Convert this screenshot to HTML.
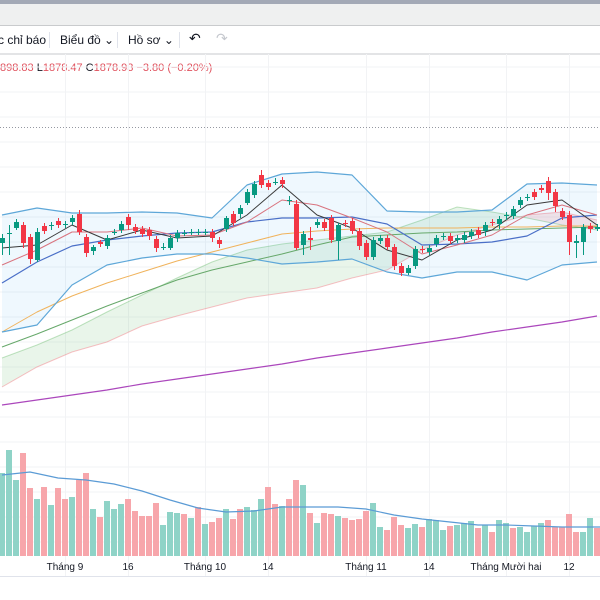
<!DOCTYPE html>
<html><head><meta charset="utf-8">
<style>
html,body{margin:0;padding:0;width:600px;height:600px;overflow:hidden;background:#fff;font-family:"Liberation Sans","Noto Sans CJK SC",sans-serif;}
#top{position:absolute;left:0;top:0;width:600px;height:4px;background:#a3a9b6;}
#hdr{position:absolute;left:0;top:4px;width:600px;height:21px;background:#eff0f0;border-bottom:1px solid #c9cbcd;}
#tb{position:absolute;left:0;top:26px;width:600px;height:27px;background:#fff;border-bottom:2px solid #e3e4e6;font-size:12px;color:#131722;}
.ti{position:absolute;top:7px;}
.sep{position:absolute;top:6px;width:1px;height:16px;background:#e0e3eb;}
#leg{position:absolute;left:0;top:62px;font-size:11px;color:#131722;white-space:nowrap;}
#leg .r{color:#e0525e;}
svg{position:absolute;left:0;top:0;}
</style></head><body>
<div id="top"></div>
<div id="hdr"></div>
<div id="tb">
  <span class="ti" style="left:-2px">c chỉ báo</span>
  <div class="sep" style="left:49px"></div>
  <span class="ti" style="left:60px">Biểu đồ &#8964;</span>
  <div class="sep" style="left:117px"></div>
  <span class="ti" style="left:128px">Hồ sơ &#8964;</span>
  <div class="sep" style="left:179px"></div>
  <span class="ti" style="left:189px;font-size:14px;top:4px">&#8630;</span>
  <span class="ti" style="left:216px;font-size:14px;top:4px;color:#c5c8ce">&#8631;</span>
</div>
<div id="leg"><span class="r">898.83</span> L<span class="r">1878.47</span> C<span class="r">1878.93</span> <span class="r">−3.80 (−0.20%)</span></div>
<svg id="chart" width="600" height="600"></svg>
<script>
// candles, price units (y = 2000 - price)
const opens  = [1757,1767,1772,1775,1763,1740,1774,1775,1779,1776,1778,1786,1763,1749,1758,1754,1768,1770,1783,1773,1771,1770,1761,1753,1752,1762,1767,1768,1768,1768,1768,1760,1771,1786,1786,1797,1805,1825,1817,1818,1820,1800,1796,
1755,1762,1775,1778,1782,1759,1777,1779,1769,1757,1743,1759,1762,1753,1734,1727,1734,1751,1748,1756,1763,1764,1760,1760,1764,1770,1769,1778,1776,1784,1784,1795,1802,1808,1812,1819,1808,1789,1785,1757,1758,1774,1771];
const closes = [1762,1767,1778,1757,1741,1768,1769,1775,1775,1776,1782,1768,1747,1753,1756,1762,1768,1776,1775,1769,1766,1764,1752,1753,1762,1767,1767,1768,1768,1768,1762,1756,1782,1777,1792,1808,1816,1815,1813,1818,1816,1800,1752,
1766,1760,1778,1772,1760,1775,1776,1769,1754,1743,1760,1762,1753,1734,1727,1732,1751,1750,1752,1762,1764,1759,1762,1765,1768,1765,1775,1777,1781,1785,1791,1800,1803,1803,1810,1807,1794,1783,1758,1759,1773,1771,1773];
const highs  = [1766,1775,1781,1778,1766,1772,1777,1778,1782,1779,1785,1790,1766,1755,1760,1765,1771,1779,1786,1776,1774,1773,1764,1757,1765,1770,1770,1771,1771,1771,1771,1763,1784,1789,1795,1811,1819,1830,1820,1822,1823,1804,1800,
1769,1773,1781,1781,1785,1777,1780,1782,1772,1760,1763,1765,1765,1756,1737,1735,1754,1754,1755,1765,1767,1767,1765,1768,1771,1773,1778,1781,1784,1788,1794,1803,1806,1811,1815,1823,1811,1792,1789,1765,1776,1777,1776];
const lows   = [1745,1745,1770,1752,1736,1738,1766,1770,1772,1772,1775,1765,1743,1745,1753,1751,1765,1767,1770,1766,1763,1760,1748,1750,1750,1758,1764,1765,1765,1765,1758,1752,1768,1774,1782,1795,1802,1812,1810,1815,1812,1795,1750,
1745,1750,1772,1769,1757,1740,1773,1766,1750,1740,1740,1756,1750,1730,1724,1725,1731,1747,1745,1753,1760,1756,1757,1757,1761,1762,1764,1774,1771,1780,1781,1792,1799,1800,1807,1800,1788,1780,1745,1742,1745,1767,1769];
// volumes (bar height units)
const volumes = [83,106,76,103,68,57,69,51,68,57,59,76,83,47,39,55,47,52,57,45,40,40,53,31,44,43,42,38,49,32,34,38,47,37,47,49,46,57,69,52,50,57,76,
71,43,33,43,42,40,38,36,37,45,53,29,26,39,31,28,32,29,37,36,26,30,31,33,35,28,31,24,36,33,28,29,24,30,33,36,29,29,42,24,24,38,28,35,23,23];
const volUp = [1,1,1,0,0,1,0,1,0,0,1,0,0,1,0,1,1,1,0,0,0,0,0,1,1,1,0,1,0,1,0,0,1,0,0,1,1,1,0,0,1,0,0,
1,0,1,0,0,1,0,0,0,0,1,1,0,0,0,1,1,0,1,1,1,0,1,1,1,0,1,0,1,1,0,1,1,1,1,0,0,0,0,0,1,1,0,0];
const volMA = [81,84,78,76,72,65,56,48,44,45,49,49,49,47,41,37,34,31,31,30,29,29,29];
// indicator samples every 5 candles (price units)
const bbUpper = [1785,1792,1787,1787,1788,1787,1782,1815,1826,1828,1825,1789,1788,1788,1790,1816,1817,1815];
const bbMid   = [1717,1738,1754,1760,1764,1767,1768,1778,1782,1782,1783,1776,1755,1756,1758,1764,1782,1785];
const bbLower = [1668,1675,1715,1735,1742,1746,1746,1742,1736,1738,1741,1728,1722,1728,1728,1720,1735,1738];
const maFast  = [1752,1755,1775,1760,1770,1762,1764,1785,1815,1785,1772,1750,1740,1760,1770,1795,1800,1775];
const maSlow  = [1735,1750,1768,1768,1772,1764,1765,1778,1800,1795,1782,1768,1746,1755,1765,1785,1795,1785];
const maLong  = [1668,1688,1704,1717,1728,1739,1748,1757,1766,1769,1771,1772,1772,1772,1773,1773,1774,1774];
const maGreen = [1653,1666,1680,1694,1707,1720,1730,1738,1746,1755,1763,1765,1767,1768,1770,1771,1772,1773];
const maPurple= [1595,1600,1605,1610,1616,1621,1626,1631,1636,1642,1647,1652,1657,1662,1668,1673,1678,1684];
const spanA   = [1642,1655,1670,1688,1705,1722,1738,1750,1756,1760,1764,1768,1780,1793,1788,1782,1775,1770];
const spanB   = [1613,1633,1648,1658,1674,1684,1693,1702,1707,1712,1722,1730,1750,1765,1775,1785,1788,1780];
const xTickLabels = ["Tháng 9","16","Tháng 10","14","Tháng 11","14","Tháng Mười hai","12"];
const xTickIdx = [9,18,29,38,52,61,72,81];

const svg=document.getElementById('chart');
const NS='http://www.w3.org/2000/svg';
const xAt=i=>2+i*7;
const yP=p=>2000-p;
const yV=v=>556-v;
function mk(tag,attrs,parent){const e=document.createElementNS(NS,tag);for(const k in attrs)e.setAttribute(k,attrs[k]);(parent||svg).appendChild(e);return e;}

const grid=mk('g',{});


for(let y=67;y<556;y+=25){mk('line',{x1:0,x2:600,y1:y,y2:y,stroke:'#f2f3f5','stroke-width':1},grid);}
xTickIdx.forEach(i=>{mk('line',{x1:xAt(i)+0.5,x2:xAt(i)+0.5,y1:54,y2:576,stroke:'#f2f3f5','stroke-width':1},grid);});
const dl=mk('line',{x1:0,x2:600,y1:127.5,y2:127.5,stroke:'#9598a1','stroke-width':1,'stroke-dasharray':'1,2'});



const sx=k=>xAt(k*5);
function pts(arr,f){return arr.map((v,k)=>sx(k)+','+f(v)).join(' ');}

const cloud=mk('g',{});


for(let k=0;k<spanA.length-1;k++){
  const up=(spanA[k]+spanA[k+1])>=(spanB[k]+spanB[k+1]);
  mk('polygon',{points:`${sx(k)},${yP(spanA[k])} ${sx(k+1)},${yP(spanA[k+1])} ${sx(k+1)},${yP(spanB[k+1])} ${sx(k)},${yP(spanB[k])}`,fill:up?'rgba(76,175,80,0.12)':'rgba(242,54,69,0.12)',stroke:'none'},cloud);
}
const sa=mk('polyline',{points:pts(spanA,yP),fill:'none',stroke:'rgba(76,175,80,0.35)','stroke-width':1});


const sb=mk('polyline',{points:pts(spanB,yP),fill:'none',stroke:'rgba(242,54,69,0.3)','stroke-width':1});



const bbf=mk('polygon',{points:pts(bbUpper,yP)+' '+bbLower.map((v,k)=>[sx(k),yP(v)]).reverse().map(p=>p.join(',')).join(' '),fill:'rgba(33,150,243,0.07)'});


function line(arr,color,name,w){const l=mk('polyline',{points:pts(arr,yP),fill:'none',stroke:color,'stroke-width':w||1,'stroke-linejoin':'round'});

}
line(maPurple,'#ab47bc','ma-200-line',1.2);
line(maGreen,'#66a86a','ma-100-line');
line(maLong,'#f0b35c','ma-50-line');
line(bbUpper,'#5ea7d8','bollinger-upper',1.2);
line(bbLower,'#5ea7d8','bollinger-lower',1.2);
line(bbMid,'#4a6fc7','bollinger-basis',1.2);
line(maSlow,'#d9737e','ma-20-line');
line(maFast,'#3a3a3a','ma-9-line');

const cg=mk('g',{});


for(let i=0;i<opens.length;i++){
  const up=closes[i]>=opens[i];const c=up?'#089981':'#f23645';const x=xAt(i);
  const w=mk('line',{x1:x+0.5,x2:x+0.5,y1:yP(highs[i]),y2:yP(lows[i]),stroke:c,'stroke-width':1},cg);
  
  
  const top=yP(Math.max(opens[i],closes[i]));const h=Math.max(1,Math.abs(opens[i]-closes[i]));
  const b=mk('rect',{x:x-2,y:top,width:5,height:h,fill:c},cg);
  
  
}
const vg=mk('g',{});


for(let i=0;i<volumes.length;i++){
  const r=mk('rect',{x:xAt(i)-3,y:yV(volumes[i]),width:6,height:volumes[i],fill:volUp[i]?'#8fd3c7':'#f7a6ab'},vg);
  
  
}
const vm=mk('polyline',{points:volMA.map((v,k)=>(xAt(k*4))+','+yV(v)).join(' '),fill:'none',stroke:'#5b9bd5','stroke-width':1.2});


const ax=mk('line',{x1:0,x2:600,y1:576.5,y2:576.5,stroke:'#e0e3eb','stroke-width':1});


xTickLabels.forEach((t,j)=>{
  const tx=mk('text',{x:xAt(xTickIdx[j]),y:570,'font-size':10,fill:'#131722','text-anchor':'middle','font-family':'Liberation Sans, sans-serif'});
  tx.textContent=t;
  
  
});
</script>
</body></html>
